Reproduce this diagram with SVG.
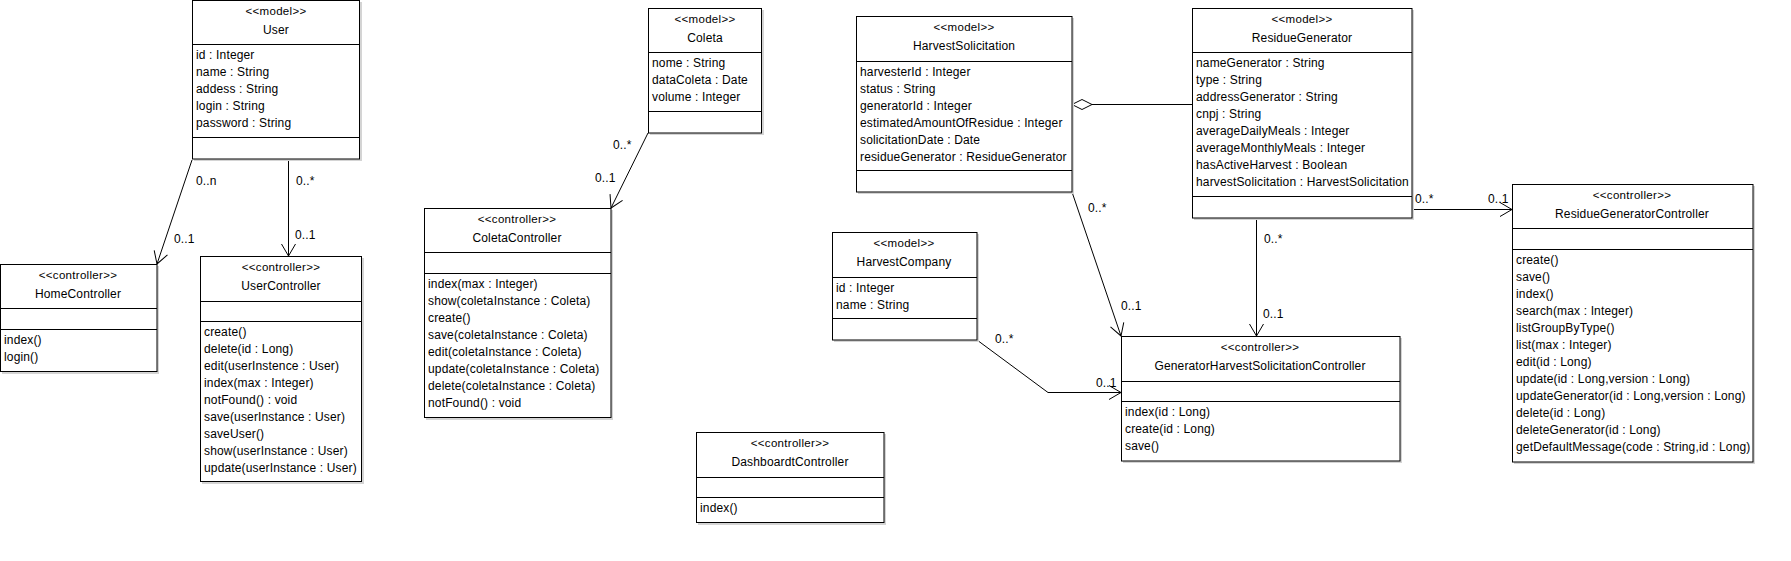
<svg xmlns="http://www.w3.org/2000/svg" width="1791" height="561" viewBox="0 0 1791 561">
<style>
.sh{fill:#d4d4d4;stroke:none}
.b{fill:#fff;stroke:#000;stroke-width:1}
.l{stroke:#000;stroke-width:1;fill:none}
text{font-family:"Liberation Sans",Arial,sans-serif;font-size:12px;fill:#000;letter-spacing:0.15px}
.c{text-anchor:middle}
.s{font-size:11.5px;letter-spacing:0.3px}
.e{stroke:#000;stroke-width:1;fill:none}
</style>
<defs>
<marker id="arr" markerUnits="userSpaceOnUse" markerWidth="16" markerHeight="16" viewBox="-14 -8 16 16" refX="0" refY="0" orient="auto">
<path d="M-12,-7 L0,0 L-12,7" fill="none" stroke="#000" stroke-width="1"/>
</marker>
<marker id="dia" markerUnits="userSpaceOnUse" markerWidth="24" markerHeight="12" viewBox="-1 -6 24 12" refX="0" refY="0" orient="auto-start-reverse">
<path d="M0,0 L10,-5 L20,0 L10,5 Z" fill="#fff" stroke="#000" stroke-width="1"/>
</marker>
</defs>
<rect width="1791" height="561" fill="#fff"/>

<g id="connectors">
<line class="e" x1="192" y1="160" x2="157" y2="264" marker-end="url(#arr)"/>
<text x="196" y="185">0..n</text>
<text x="174" y="243">0..1</text>
<line class="e" x1="288.5" y1="160" x2="288.5" y2="256" marker-end="url(#arr)"/>
<text x="296" y="185">0..*</text>
<text x="295" y="239">0..1</text>
<line class="e" x1="648" y1="133" x2="611" y2="208" marker-end="url(#arr)"/>
<text x="613" y="149">0..*</text>
<text x="595" y="182">0..1</text>
<line class="e" x1="1092" y1="104.5" x2="1192" y2="104.5" marker-start="url(#dia)"/>
<line class="e" x1="1072" y1="192" x2="1121" y2="336" marker-end="url(#arr)"/>
<text x="1088" y="212">0..*</text>
<text x="1121" y="310">0..1</text>
<polyline class="e" points="977,340 1048,392.5 1121,392.5" marker-end="url(#arr)"/>
<text x="995" y="343">0..*</text>
<text x="1096" y="387">0..1</text>
<line class="e" x1="1256.5" y1="218" x2="1256.5" y2="336" marker-end="url(#arr)"/>
<text x="1264" y="243">0..*</text>
<text x="1263" y="318">0..1</text>
<line class="e" x1="1412" y1="209.5" x2="1512" y2="209.5" marker-end="url(#arr)"/>
<text x="1415" y="203">0..*</text>
<text x="1488" y="203">0..1</text>
</g>

<g id="User">
<rect class="sh" x="194" y="2" width="168" height="159"/>
<rect class="b" x="192.5" y="0.5" width="167" height="158.5"/>
<line class="l" x1="192.5" y1="44.5" x2="359.5" y2="44.5"/>
<line class="l" x1="192.5" y1="137.5" x2="359.5" y2="137.5"/>
<text class="c s" x="276" y="15">&lt;&lt;model&gt;&gt;</text>
<text class="c" x="276" y="34">User</text>
<text x="196" y="59">id : Integer</text>
<text x="196" y="76">name : String</text>
<text x="196" y="93">addess : String</text>
<text x="196" y="110">login : String</text>
<text x="196" y="127">password : String</text>
</g>

<g id="HomeController">
<rect class="sh" x="2" y="266" width="157" height="108"/>
<rect class="b" x="0.5" y="264.5" width="156.5" height="107"/>
<line class="l" x1="0.5" y1="308.5" x2="157" y2="308.5"/>
<line class="l" x1="0.5" y1="329.5" x2="157" y2="329.5"/>
<text class="c s" x="78" y="279">&lt;&lt;controller&gt;&gt;</text>
<text class="c" x="78" y="298">HomeController</text>
<text x="4" y="344">index()</text>
<text x="4" y="361">login()</text>
</g>

<g id="UserController">
<rect class="sh" x="202" y="258" width="162" height="226"/>
<rect class="b" x="200.5" y="256.5" width="161" height="225"/>
<line class="l" x1="200.5" y1="301.5" x2="361.5" y2="301.5"/>
<line class="l" x1="200.5" y1="321.5" x2="361.5" y2="321.5"/>
<text class="c s" x="281" y="271">&lt;&lt;controller&gt;&gt;</text>
<text class="c" x="281" y="290">UserController</text>
<text x="204" y="336">create()</text>
<text x="204" y="353">delete(id : Long)</text>
<text x="204" y="370">edit(userInstence : User)</text>
<text x="204" y="387">index(max : Integer)</text>
<text x="204" y="404">notFound() : void</text>
<text x="204" y="421">save(userInstance : User)</text>
<text x="204" y="438">saveUser()</text>
<text x="204" y="455">show(userInstance : User)</text>
<text x="204" y="472">update(userInstance : User)</text>
</g>

<g id="Coleta">
<rect class="sh" x="650" y="10" width="114" height="125"/>
<rect class="b" x="648.5" y="8.5" width="113" height="124.5"/>
<line class="l" x1="648.5" y1="52.5" x2="761.5" y2="52.5"/>
<line class="l" x1="648.5" y1="111.5" x2="761.5" y2="111.5"/>
<text class="c s" x="705" y="23">&lt;&lt;model&gt;&gt;</text>
<text class="c" x="705" y="42">Coleta</text>
<text x="652" y="67">nome : String</text>
<text x="652" y="84">dataColeta : Date</text>
<text x="652" y="101">volume : Integer</text>
</g>

<g id="ColetaController">
<rect class="sh" x="426" y="210" width="187" height="210"/>
<rect class="b" x="424.5" y="208.5" width="186.5" height="209"/>
<line class="l" x1="424.5" y1="252.5" x2="611" y2="252.5"/>
<line class="l" x1="424.5" y1="273.5" x2="611" y2="273.5"/>
<text class="c s" x="517" y="223">&lt;&lt;controller&gt;&gt;</text>
<text class="c" x="517" y="242">ColetaController</text>
<text x="428" y="288">index(max : Integer)</text>
<text x="428" y="305">show(coletaInstance : Coleta)</text>
<text x="428" y="322">create()</text>
<text x="428" y="339">save(coletaInstance : Coleta)</text>
<text x="428" y="356">edit(coletaInstance : Coleta)</text>
<text x="428" y="373">update(coletaInstance : Coleta)</text>
<text x="428" y="390">delete(coletaInstance : Coleta)</text>
<text x="428" y="407">notFound() : void</text>
</g>

<g id="DashboardtController">
<rect class="sh" x="698" y="434" width="188" height="91"/>
<rect class="b" x="696.5" y="432.5" width="187.5" height="90"/>
<line class="l" x1="696.5" y1="477.5" x2="884" y2="477.5"/>
<line class="l" x1="696.5" y1="497.5" x2="884" y2="497.5"/>
<text class="c s" x="790" y="447">&lt;&lt;controller&gt;&gt;</text>
<text class="c" x="790" y="466">DashboardtController</text>
<text x="700" y="512">index()</text>
</g>

<g id="HarvestSolicitation">
<rect class="sh" x="858" y="18" width="216" height="176"/>
<rect class="b" x="856.5" y="16.5" width="215.5" height="175.5"/>
<line class="l" x1="856.5" y1="61.5" x2="1072" y2="61.5"/>
<line class="l" x1="856.5" y1="170.5" x2="1072" y2="170.5"/>
<text class="c s" x="964" y="31">&lt;&lt;model&gt;&gt;</text>
<text class="c" x="964" y="50">HarvestSolicitation</text>
<text x="860" y="76">harvesterId : Integer</text>
<text x="860" y="93">status : String</text>
<text x="860" y="110">generatorId : Integer</text>
<text x="860" y="127">estimatedAmountOfResidue : Integer</text>
<text x="860" y="144">solicitationDate : Date</text>
<text x="860" y="161">residueGenerator : ResidueGenerator</text>
</g>

<g id="ResidueGenerator">
<rect class="sh" x="1194" y="10" width="220" height="210"/>
<rect class="b" x="1192.5" y="8.5" width="219.5" height="209.5"/>
<line class="l" x1="1192.5" y1="52.5" x2="1412" y2="52.5"/>
<line class="l" x1="1192.5" y1="196.5" x2="1412" y2="196.5"/>
<text class="c s" x="1302" y="23">&lt;&lt;model&gt;&gt;</text>
<text class="c" x="1302" y="42">ResidueGenerator</text>
<text x="1196" y="67">nameGenerator : String</text>
<text x="1196" y="84">type : String</text>
<text x="1196" y="101">addressGenerator : String</text>
<text x="1196" y="118">cnpj : String</text>
<text x="1196" y="135">averageDailyMeals : Integer</text>
<text x="1196" y="152">averageMonthlyMeals : Integer</text>
<text x="1196" y="169">hasActiveHarvest : Boolean</text>
<text x="1196" y="186">harvestSolicitation : HarvestSolicitation</text>
</g>

<g id="HarvestCompany">
<rect class="sh" x="834" y="234" width="145" height="108"/>
<rect class="b" x="832.5" y="232.5" width="144.5" height="107.5"/>
<line class="l" x1="832.5" y1="277.5" x2="977" y2="277.5"/>
<line class="l" x1="832.5" y1="318.5" x2="977" y2="318.5"/>
<text class="c s" x="904" y="247">&lt;&lt;model&gt;&gt;</text>
<text class="c" x="904" y="266">HarvestCompany</text>
<text x="836" y="292">id : Integer</text>
<text x="836" y="309">name : String</text>
</g>

<g id="GeneratorHarvestSolicitationController">
<rect class="sh" x="1123" y="338" width="279" height="125"/>
<rect class="b" x="1121.5" y="336.5" width="278.5" height="124.5"/>
<line class="l" x1="1121.5" y1="381.5" x2="1400" y2="381.5"/>
<line class="l" x1="1121.5" y1="401.5" x2="1400" y2="401.5"/>
<text class="c s" x="1260" y="351">&lt;&lt;controller&gt;&gt;</text>
<text class="c" x="1260" y="370">GeneratorHarvestSolicitationController</text>
<text x="1125" y="416">index(id : Long)</text>
<text x="1125" y="433">create(id : Long)</text>
<text x="1125" y="450">save()</text>
</g>

<g id="ResidueGeneratorController">
<rect class="sh" x="1514" y="186" width="241" height="278"/>
<rect class="b" x="1512.5" y="184.5" width="240.5" height="277.5"/>
<line class="l" x1="1512.5" y1="228.5" x2="1753" y2="228.5"/>
<line class="l" x1="1512.5" y1="249.5" x2="1753" y2="249.5"/>
<text class="c s" x="1632" y="199">&lt;&lt;controller&gt;&gt;</text>
<text class="c" x="1632" y="218">ResidueGeneratorController</text>
<text x="1516" y="264">create()</text>
<text x="1516" y="281">save()</text>
<text x="1516" y="298">index()</text>
<text x="1516" y="315">search(max : Integer)</text>
<text x="1516" y="332">listGroupByType()</text>
<text x="1516" y="349">list(max : Integer)</text>
<text x="1516" y="366">edit(id : Long)</text>
<text x="1516" y="383">update(id : Long,version : Long)</text>
<text x="1516" y="400">updateGenerator(id : Long,version : Long)</text>
<text x="1516" y="417">delete(id : Long)</text>
<text x="1516" y="434">deleteGenerator(id : Long)</text>
<text x="1516" y="451">getDefaultMessage(code : String,id : Long)</text>
</g>
</svg>
